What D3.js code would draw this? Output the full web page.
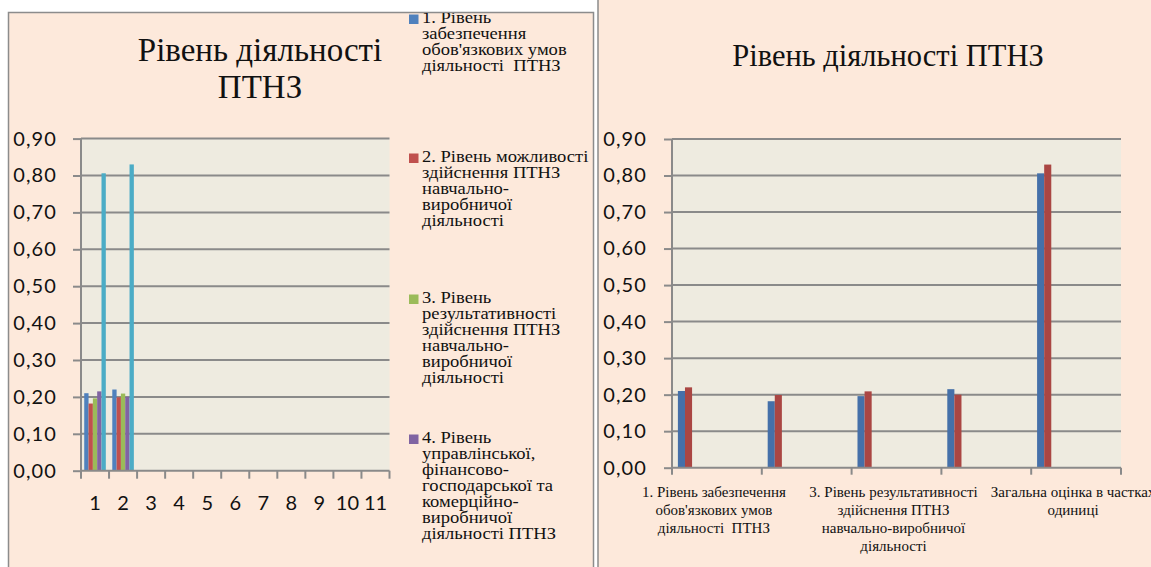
<!DOCTYPE html>
<html><head><meta charset="utf-8">
<script src="https://cdn.jsdelivr.net/npm/d3@7"></script>
<style>
html,body{margin:0;padding:0;background:#fff;}
svg{display:block;}
.serif{font-family:"Liberation Serif","Times New Roman",Tinos,serif;white-space:pre;}
.num{font-family:Lato,"Open Sans",sans-serif;}
</style></head>
<body>
<svg id="chart" width="1151" height="567"></svg>
<script>
// ---- data ----
const leftCategories = ["1","2","3","4","5","6","7","8","9","10","11"];
const rightCategories = [
  "1. Рівень забезпечення обов'язкових умов діяльності  ПТНЗ",
  "2. Рівень можливості здійснення ПТНЗ навчально-виробничої діяльності",
  "3. Рівень результативності здійснення ПТНЗ навчально-виробничої діяльності",
  "4. Рівень управлінської, фінансово-господарської та комерційно-виробничої діяльності ПТНЗ",
  "Загальна оцінка в частках одиниці"
];
// values for series "1" and "2" (columns) per indicator
const series1Values = [0.21, 0.182, 0.196, 0.215, 0.806];
const series2Values = [0.22, 0.199, 0.209, 0.20, 0.83];
const yTicks = [0,0.1,0.2,0.3,0.4,0.5,0.6,0.7,0.8,0.9];
const chartTitle = "Рівень діяльності ПТНЗ";
const leftTitleLines = ["Рівень діяльності", "ПТНЗ"];
// legend entries visible inside the panel (5th entry falls below the visible area)
const legendLines = [
  ["1. Рівень", "забезпечення", "обов'язкових умов", "діяльності  ПТНЗ"],
  ["2. Рівень можливості", "здійснення ПТНЗ", "навчально-", "виробничої", "діяльності"],
  ["3. Рівень", "результативності", "здійснення ПТНЗ", "навчально-", "виробничої", "діяльності"],
  ["4. Рівень", "управлінської,", "фінансово-", "господарської та", "комерційно-", "виробничої", "діяльності ПТНЗ"]
];
const rightLabelLines = [
  ["1. Рівень забезпечення", "обов'язкових умов", "діяльності  ПТНЗ"],
  null,
  ["3. Рівень результативності", "здійснення ПТНЗ", "навчально-виробничої", "діяльності"],
  null,
  ["Загальна оцінка в частках", "одиниці"]
];
const leftColors = ["#4F81BD", "#C0504D", "#9BBB59", "#8064A2", "#4BACC6"];
const rightColors = ["#4570A9", "#AA4643"];

// ---- style ----
const panelBg = "#FDE9DB", plotBg = "#EEEBE0", gridC = "#8A8A8A", borderC = "#8C8C8C";

const svg = d3.select("#chart");
const fmt = v => d3.format(".2f")(v).replace(".", ",");

// panels
svg.append("rect").attr("x", 598).attr("y", -5).attr("width", 600).attr("height", 600)
  .attr("fill", panelBg).attr("stroke", borderC).attr("stroke-width", 1.5);
svg.append("rect").attr("x", 8.5).attr("y", 12.5).attr("width", 585).attr("height", 600)
  .attr("fill", panelBg).attr("stroke", borderC).attr("stroke-width", 1.5);

svg.append("clipPath").attr("id", "clipL").append("rect")
  .attr("x", 9).attr("y", 13).attr("width", 584).attr("height", 560);

// ================= LEFT CHART =================
const L = {x0: 81, x1: 389.5, y0: 470.7, y1: 138.6};
const xL = d3.scaleBand().domain(leftCategories).range([L.x0, L.x1]);
const yL = d3.scaleLinear().domain([0, 0.9]).range([L.y0, L.y1]);
const subL = d3.scaleBand().domain(d3.range(rightCategories.length)).range([0, xL.bandwidth()])
  .paddingInner(0).paddingOuter(0.75);

const gL = svg.append("g");
gL.append("rect").attr("x", L.x0).attr("y", L.y1).attr("width", L.x1 - L.x0).attr("height", L.y0 - L.y1).attr("fill", plotBg);
gL.append("g").selectAll("line").data(yTicks.slice(1)).join("line")
  .attr("x1", L.x0).attr("x2", L.x1).attr("y1", d => yL(d)).attr("y2", d => yL(d))
  .attr("stroke", gridC).attr("stroke-width", 2);

const leftData = [];
[series1Values, series2Values].forEach((vals, ci) => {
  vals.forEach((v, si) => leftData.push({cat: leftCategories[ci], s: si, v}));
});
gL.append("g").selectAll("rect").data(leftData).join("rect")
  .attr("x", d => xL(d.cat) + subL(d.s)).attr("width", subL.bandwidth())
  .attr("y", d => yL(d.v)).attr("height", d => yL(0) - yL(d.v))
  .attr("fill", d => leftColors[d.s]);

const yAxisL = gL.append("g").attr("transform", `translate(${L.x0},0)`)
  .call(d3.axisLeft(yL).tickValues(yTicks).tickFormat(fmt).tickSize(8).tickPadding(16));
const xAxisL = gL.append("g").attr("transform", `translate(0,${L.y0})`)
  .call(d3.axisBottom(xL).tickSize(0).tickPadding(25));
gL.append("g").selectAll("line").data(d3.range(leftCategories.length + 1)).join("line")
  .attr("x1", i => L.x0 + i * xL.step()).attr("x2", i => L.x0 + i * xL.step())
  .attr("y1", L.y0).attr("y2", L.y0 + 8).attr("stroke", gridC).attr("stroke-width", 2);

[yAxisL, xAxisL].forEach(a => {
  a.attr("font-family", null).attr("font-size", null);
  a.select(".domain").attr("stroke", gridC).attr("stroke-width", 2);
  a.selectAll(".tick line").attr("stroke", gridC).attr("stroke-width", 2);
  a.selectAll("text").attr("class", "num").attr("font-size", 20).attr("fill", "#111");
});
xAxisL.select(".domain").attr("d", `M${L.x0},0H${L.x1}`);
yAxisL.select(".domain").attr("d", `M0,${L.y0}V${L.y1}`);
yAxisL.selectAll("text").attr("letter-spacing", 1.1);

gL.append("text").attr("class", "serif").attr("text-anchor", "middle").attr("font-size", 33)
  .attr("fill", "#111")
  .selectAll("tspan").data(leftTitleLines).join("tspan")
  .attr("x", 260).attr("y", (d, i) => 61 + i * 37).text(d => d);

// legend
const legG = svg.append("g").attr("clip-path", "url(#clipL)");
const legTop = [23, 162, 303, 443];
legendLines.forEach((lines, i) => {
  legG.append("rect").attr("x", 409).attr("y", legTop[i] - 8.5).attr("width", 9.5).attr("height", 9.5)
    .attr("fill", leftColors[i]);
  legG.append("text").attr("class", "serif").attr("font-size", 16).attr("fill", "#111")
    .attr("transform", `translate(422,0) scale(1.16,1)`)
    .selectAll("tspan").data(lines).join("tspan")
    .attr("x", 0).attr("y", (d, j) => legTop[i] + j * 16).text(d => d);
});

// ================= RIGHT CHART =================
const R = {x0: 672, x1: 1121, y0: 467.7, y1: 139};
const xR = d3.scaleBand().domain(rightCategories).range([R.x0, R.x1]);
const yR = d3.scaleLinear().domain([0, 0.9]).range([R.y0, R.y1]);
const subR = d3.scaleBand().domain(leftCategories).range([0, xR.bandwidth()])
  .paddingInner(0).paddingOuter(0.83);

const gR = svg.append("g");
gR.append("rect").attr("x", R.x0).attr("y", R.y1).attr("width", R.x1 - R.x0).attr("height", R.y0 - R.y1).attr("fill", plotBg);
gR.append("g").selectAll("line").data(yTicks.slice(1)).join("line")
  .attr("x1", R.x0).attr("x2", R.x1).attr("y1", d => yR(d)).attr("y2", d => yR(d))
  .attr("stroke", gridC).attr("stroke-width", 2);

const rightData = [];
[series1Values, series2Values].forEach((vals, si) => {
  vals.forEach((v, ci) => rightData.push({cat: rightCategories[ci], s: leftCategories[si], si, v}));
});
gR.append("g").selectAll("rect").data(rightData).join("rect")
  .attr("x", d => xR(d.cat) + subR(d.s)).attr("width", subR.bandwidth())
  .attr("y", d => yR(d.v)).attr("height", d => yR(0) - yR(d.v))
  .attr("fill", d => rightColors[d.si]);

const yAxisR = gR.append("g").attr("transform", `translate(${R.x0},0)`)
  .call(d3.axisLeft(yR).tickValues(yTicks).tickFormat(fmt).tickSize(8).tickPadding(17));
yAxisR.attr("font-family", null).attr("font-size", null);
yAxisR.select(".domain").attr("stroke", gridC).attr("stroke-width", 2).attr("d", `M0,${R.y0}V${R.y1}`);
yAxisR.selectAll(".tick line").attr("stroke", gridC).attr("stroke-width", 2);
yAxisR.selectAll("text").attr("class", "num").attr("font-size", 20).attr("fill", "#111")
  .attr("letter-spacing", 1.1);

gR.append("line").attr("x1", R.x0).attr("x2", R.x1).attr("y1", R.y0).attr("y2", R.y0)
  .attr("stroke", gridC).attr("stroke-width", 2);
gR.append("g").selectAll("line").data(d3.range(rightCategories.length + 1)).join("line")
  .attr("x1", i => R.x0 + i * xR.step()).attr("x2", i => R.x0 + i * xR.step())
  .attr("y1", R.y0).attr("y2", R.y0 + 7).attr("stroke", gridC).attr("stroke-width", 2);

rightCategories.forEach((c, i) => {
  const lines = rightLabelLines[i];
  if (!lines) return;
  gR.append("text").attr("class", "serif").attr("text-anchor", "middle").attr("font-size", 15)
    .attr("fill", "#111")
    .selectAll("tspan").data(lines).join("tspan")
    .attr("x", xR(c) + xR.bandwidth() / 2 - 3).attr("y", (d, j) => 497 + j * 18).text(d => d);
});

gR.append("text").attr("class", "serif").attr("x", 888).attr("y", 66).attr("text-anchor", "middle")
  .attr("font-size", 30.5).attr("fill", "#111").text(chartTitle);
</script>
</body></html>
